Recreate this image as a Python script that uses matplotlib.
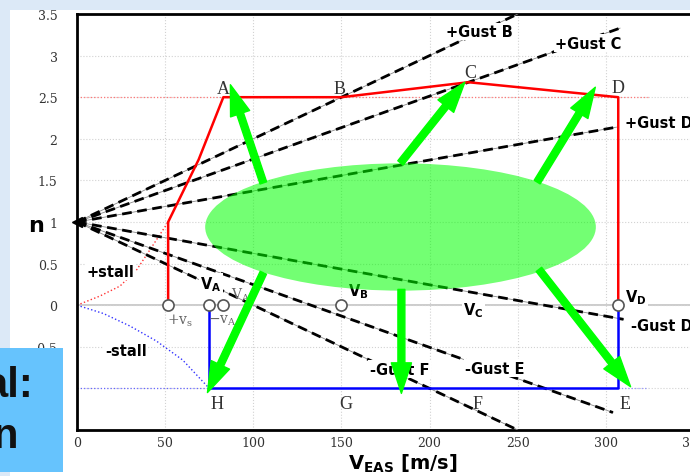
import matplotlib
matplotlib.use('Agg')
import matplotlib.pyplot as plt
from matplotlib.patches import Ellipse, Rectangle

plt.rcParams['mathtext.fontset'] = 'custom'
plt.rcParams['mathtext.rm'] = 'DejaVu Serif'
plt.rcParams['mathtext.it'] = 'DejaVu Serif:italic'
plt.rcParams['mathtext.bf'] = 'DejaVu Sans:bold'

# manoeuvre envelope (V_EAS in m/s, load factor n)
pos_env_v = [51.7, 51.7, 69, 83, 150, 222, 307, 307]
pos_env_n = [0, 1.0, 1.75, 2.5, 2.5, 2.68, 2.5, 0]
neg_env_v = [75, 75, 307, 307]
neg_env_n = [0, -1, -1, 0]

# stall curves below the envelope corners
pos_stall_v = [0, 13, 24.4, 34, 41.5, 51.7]
pos_stall_n = [0, 0.11, 0.23, 0.43, 0.67, 1.0]
neg_stall_v = [0, 15, 30, 45, 60, 75]
neg_stall_n = [0, -0.1, -0.25, -0.43, -0.66, -1.0]

# gust lines, all starting from (0, 1)
gust_names = ['+Gust B', '+Gust C', '+Gust D', '-Gust D', '-Gust E', '-Gust F']
gust_end_v = [250, 308, 306, 310, 304, 250]
gust_end_n = [3.5, 3.33, 2.14, -0.17, -1.29, -1.5]
gust_label_pos = [(228, 3.29), (290, 3.15), (311, 2.19), (314.5, -0.25), (237, -0.76), (183, -0.77)]

speed_marks = [51.7, 75, 83, 150, 307]

corner_names = ['A', 'B', 'C', 'D', 'H', 'G', 'F', 'E']
corner_pos = [(83, 2.6), (149, 2.6), (223, 2.8), (307, 2.62),
              (79.5, -1.18), (152.7, -1.18), (227, -1.18), (311, -1.18)]

arrow_from = [(105.7, 1.47), (183.5, 1.71), (261, 1.48), (105.7, 0.39), (184, 0.19), (262, 0.43)]
arrow_to = [(87, 2.65), (220, 2.68), (294, 2.62), (74, -1.05), (184, -1.06), (314, -0.98)]

fig = plt.figure(figsize=(6.9, 4.77), dpi=100)
fig.patch.set_facecolor('#dce9f7')
fig.add_artist(Rectangle((10 / 690, 0), 1, 1 - 11 / 477, transform=fig.transFigure,
                         facecolor='white', edgecolor='none', zorder=-1))

ax = fig.add_axes([77 / 690, 46 / 477, 352 * 1.763 / 690, 416 / 477])
ax.set_xlim(0, 352)
ax.set_ylim(-1.5, 3.5)
ax.set_xticks(range(0, 351, 50))
ax.set_yticks([-1.5, -1, -0.5, 0, 0.5, 1, 1.5, 2, 2.5, 3, 3.5])
ax.set_yticklabels(['-1.5', '-1', '-0.5', '0', '0.5', '1', '1.5', '2', '2.5', '3', '3.5'])
ax.tick_params(length=0, labelsize=9, labelcolor='#333333')
ax.tick_params(axis='y', pad=14)
ax.tick_params(axis='x', pad=4)
for lab in ax.get_xticklabels() + ax.get_yticklabels():
    lab.set_fontfamily('DejaVu Serif')
ax.grid(True, color='#d2d2d2', linestyle=':', linewidth=0.8)
for side in ['left', 'bottom', 'top']:
    ax.spines[side].set_linewidth(2)
ax.spines['right'].set_visible(False)

ax.axhline(0, color='#c4c4c4', linewidth=1.2, zorder=1)
ax.plot([0, 324], [2.5, 2.5], color='#ff7777', linestyle=':', linewidth=0.9, zorder=2)
ax.plot([0, neg_env_v[0]], [-1, -1], color='#6666ff', linestyle=':', linewidth=0.9, zorder=2)
ax.plot([neg_env_v[-1], 324], [-1, -1], color='#9999ff', linestyle=':', linewidth=0.9, zorder=2)
ax.plot(pos_stall_v, pos_stall_n, color='#ff3333', linestyle=':', linewidth=1.0, zorder=2)
ax.plot(neg_stall_v, neg_stall_n, color='#3333ff', linestyle=':', linewidth=1.0, zorder=2)

# gust lines: thin guide under thick dashes
for v_end, n_end in zip(gust_end_v, gust_end_n):
    ax.plot([0, v_end], [1, n_end], color='#888888', linewidth=0.6, zorder=3)
    ax.plot([0, v_end], [1, n_end], color='black', linewidth=2, linestyle=(0, (3.5, 2)), zorder=3)
ax.plot([0], [1], marker='<', color='black', markersize=7, clip_on=False, zorder=4)

ax.plot(pos_env_v, pos_env_n, color='red', linewidth=1.8, zorder=4)
ax.plot(neg_env_v, neg_env_n, color='blue', linewidth=1.8, zorder=4)
ax.plot(speed_marks, [0] * len(speed_marks), linestyle='none', marker='o', markersize=8,
        markerfacecolor='white', markeredgecolor='#555555', markeredgewidth=1.2, zorder=5)

bold = dict(fontfamily='DejaVu Sans', fontweight='bold', fontsize=10.5, color='black')
box = dict(facecolor='white', edgecolor='none', pad=1)
for name, (x, y) in zip(gust_names, gust_label_pos):
    ha = 'left' if name.endswith('D') else 'center'
    ax.text(x, y, name, ha=ha, va='center', bbox=box, zorder=4, clip_on=False, **bold)

ax.text(18.7, 0.41, '+stall', ha='center', va='center', bbox=box, zorder=4, **bold)
ax.text(27.8, -0.55, '-stall', ha='center', va='center', bbox=box, zorder=4, **bold)
ax.text(76, 0.26, r'$\mathbf{V_A}$', ha='center', va='center', bbox=box, zorder=4, **bold)
ax.text(159.7, 0.18, r'$\mathbf{V_B}$', ha='center', va='center', bbox=box, zorder=4, **bold)
ax.text(225, -0.05, r'$\mathbf{V_C}$', ha='center', va='center', bbox=box, zorder=4, **bold)
ax.text(317, 0.1, r'$\mathbf{V_D}$', ha='center', va='center', bbox=box, zorder=4, **bold)

serif_small = dict(fontsize=10, color='#666666', ha='center', va='center', zorder=4)
ax.text(58.5, -0.18, r'$+\mathrm{v_s}$', **serif_small)
ax.text(82.4, -0.18, r'$-\mathrm{v_A}$', **serif_small)
ax.text(93, 0.13, r'$\mathrm{V_A}$', **serif_small)

for name, (x, y) in zip(corner_names, corner_pos):
    ax.text(x, y, name, fontfamily='Liberation Serif', fontsize=13, color='#333333',
            ha='center', va='center', zorder=4)

ax.add_patch(Ellipse((183.5, 0.94), 221.6, 1.53, facecolor='#00ff00', edgecolor='none',
                     alpha=0.55, zorder=6))
for start, tip in zip(arrow_from, arrow_to):
    ax.annotate('', xy=tip, xytext=start, zorder=7, annotation_clip=False,
                arrowprops=dict(arrowstyle='simple,head_length=2.2,head_width=1.45,tail_width=0.5',
                                mutation_scale=10, color='#00ff00', shrinkA=0, shrinkB=0))

fig.text(36 / 690, 1 - 226 / 477, 'n', fontfamily='DejaVu Sans', fontweight='bold',
         fontsize=16, ha='center', va='center')
fig.text(403 / 690, 1 - 464 / 477, r'$\mathbf{V_{EAS}}$ [m/s]', fontfamily='DejaVu Sans',
         fontweight='bold', fontsize=14, ha='center', va='center')

# slide overlays: top strip and the caption box on the left
fig.add_artist(Rectangle((0, 1 - 11 / 477), 1, 11 / 477, transform=fig.transFigure,
                         facecolor='#dce9f7', edgecolor='none', zorder=8))
fig.add_artist(Rectangle((0, 4 / 477), 63 / 690, 124 / 477, transform=fig.transFigure,
                         facecolor='#66c3fd', edgecolor='none', zorder=8))
fig.text(33 / 690, 1 - 397 / 477, 'al:', fontfamily='Liberation Sans', fontweight='bold',
         fontsize=30, color='#111111', ha='right', va='baseline', zorder=9)
fig.text(18 / 690, 1 - 448 / 477, 'n', fontfamily='Liberation Sans', fontweight='bold',
         fontsize=30, color='#111111', ha='right', va='baseline', zorder=9)

fig.savefig('out.png', dpi=100, facecolor=fig.get_facecolor())
